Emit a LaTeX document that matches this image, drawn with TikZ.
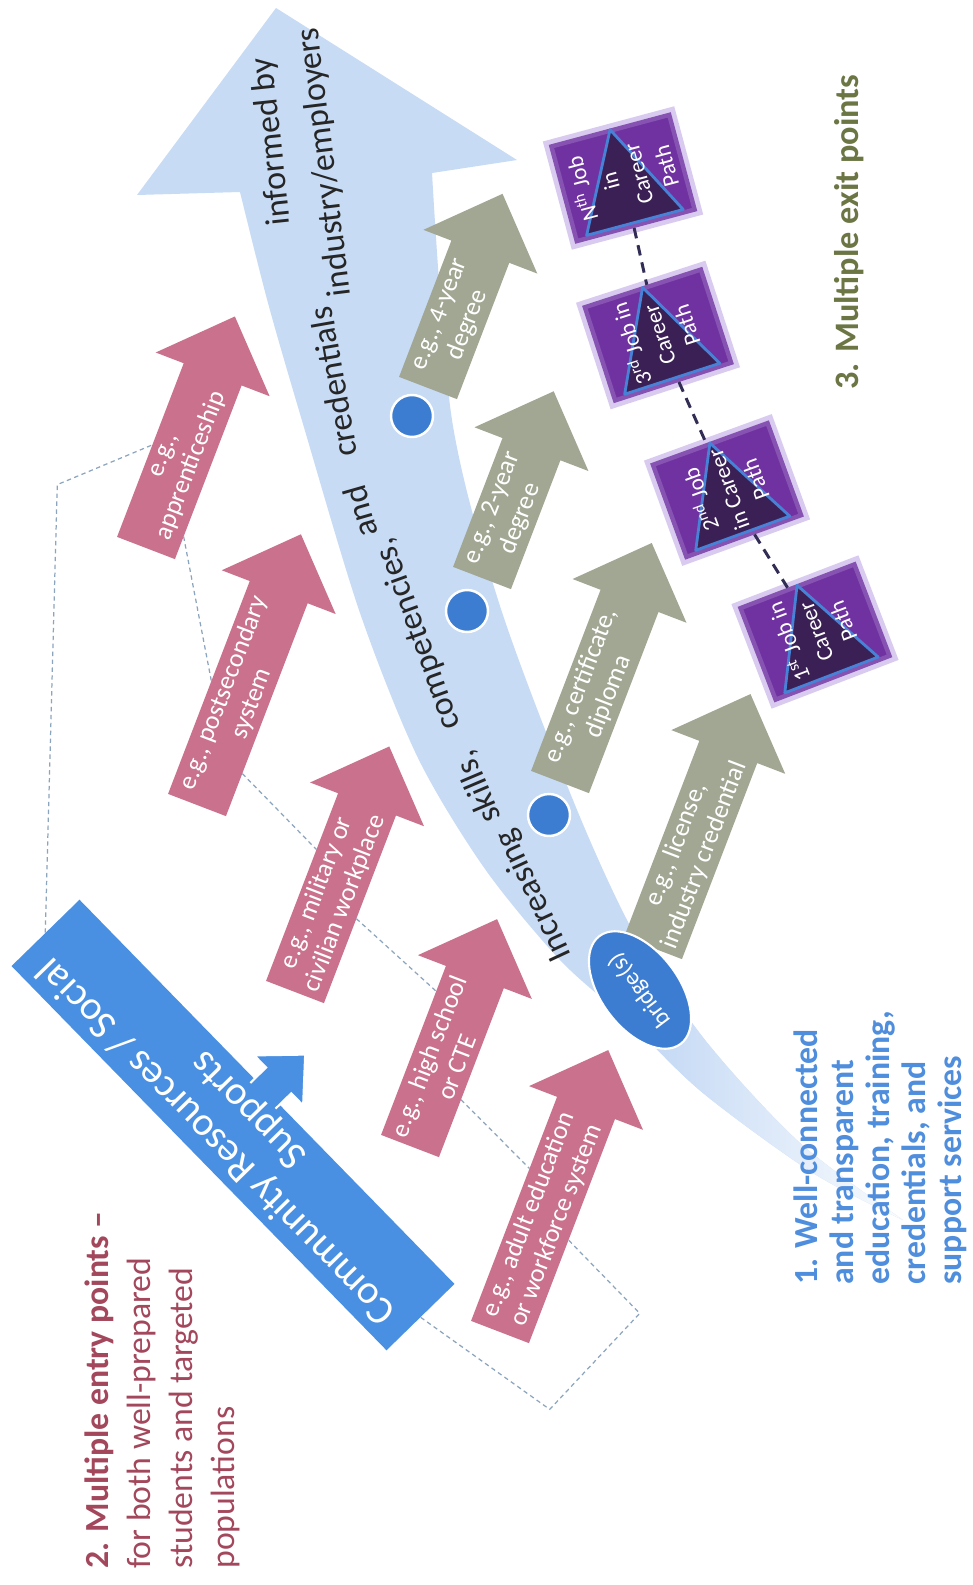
\documentclass[tikz,border=0pt]{standalone}
\usepackage{fontspec}
\setmainfont{Carlito}
\usepackage{xcolor}
\usepackage{tikz}
\usetikzlibrary{shapes.geometric, calc}

\definecolor{bandblue}{RGB}{199,219,245}
\definecolor{dotblue}{RGB}{60,125,210}
\definecolor{commblue}{RGB}{74,144,226}
\definecolor{entrypink}{RGB}{202,114,141}
\definecolor{creditgray}{RGB}{161,167,146}
\definecolor{jobpurple}{RGB}{112,50,160}
\definecolor{jobglow}{RGB}{200,180,232}
\definecolor{jobdark}{RGB}{58,32,84}
\definecolor{triblue}{RGB}{72,130,215}
\definecolor{wellblue}{RGB}{79,141,221}
\definecolor{entryrose}{RGB}{163,72,92}
\definecolor{exitolive}{RGB}{107,118,68}
\definecolor{ladderline}{RGB}{140,165,190}
\definecolor{careerline}{RGB}{50,45,85}

% one step arrow: length, colour, label
\tikzset{
    pics/rung/.style n args={3}{code={
        \fill[#2] (0,-31) -- ({#1-62},-31) -- ({#1-62},-61) -- (#1,0)
            -- ({#1-62},61) -- ({#1-62},31) -- (0,31) -- cycle;
        \coordinate (-bl) at (0,31);
        \coordinate (-br) at (0,-31);
        \coordinate (-nl) at ({#1-62},31);
        \coordinate (-nr) at ({#1-62},-31);
        \node[rungtext] (-txt) at ({(#1-62)/2},0) {#3};
    }}
}

\begin{document}
\begin{tikzpicture}[
    x=0.02cm, y=0.02cm,
    bandfill/.style={fill=bandblue},
    bandword/.style={
        font=\fontsize{19.4}{23}\selectfont,
        text=black!85,
        inner sep=0pt
    },
    rungtext/.style={
        font=\fontsize{14.8}{17}\selectfont,
        text=white,
        align=center,
        rotate=69,
        inner sep=0pt
    },
    stepdot/.style={
        circle,
        fill=dotblue,
        draw=white,
        line width=1.4pt,
        minimum size=0.84cm,
        inner sep=0pt
    },
    bridgenode/.style={
        ellipse,
        fill=dotblue,
        draw=white,
        line width=1.2pt,
        rotate=127,
        minimum width=2.7cm,
        minimum height=1.55cm,
        inner sep=0pt,
        text=white,
        font=\fontsize{13.7}{16}\selectfont
    },
    commbox/.style={
        rectangle,
        fill=commblue,
        rotate=134.3,
        minimum width=10.74cm,
        minimum height=1.9cm,
        inner sep=0pt,
        align=center,
        text=white,
        font=\fontsize{23}{25.5}\selectfont
    },
    jobbox/.style={
        rectangle,
        fill=jobpurple,
        draw=jobpurple!75!jobglow,
        line width=2.5pt,
        preaction={draw=jobglow!70, line width=8pt},
        minimum width=2.44cm,
        minimum height=1.96cm
    },
    jobtri/.style={
        fill=jobdark,
        draw=triblue,
        line width=1.6pt,
        line join=round
    },
    jobtext/.style={
        rotate=90,
        align=center,
        text=white,
        inner sep=0pt,
        font=\fontsize{13}{16.5}\selectfont
    },
    ladderdash/.style={
        draw=ladderline,
        line width=0.7pt,
        dash pattern=on 2.5pt off 2pt
    },
    careerdash/.style={
        draw=careerline,
        line width=1.7pt,
        dash pattern=on 6pt off 4pt
    },
    entrylabel/.style={
        rotate=90,
        anchor=north west,
        align=left,
        inner sep=0pt,
        text=entryrose,
        font=\fontsize{19.2}{23.9}\selectfont
    },
    welllabel/.style={
        rotate=90,
        anchor=north west,
        align=left,
        inner sep=0pt,
        text=wellblue,
        font=\bfseries\fontsize{19.2}{20.5}\selectfont
    },
    exitlabel/.style={
        rotate=90,
        anchor=base west,
        inner sep=0pt,
        text=exitolive,
        font=\bfseries\fontsize{19.5}{23}\selectfont
    }
]
    \path[use as bounding box, fill=white] (0,0) rectangle (973,-1585);

    % Big curved arrow
    \fill[bandfill, save path=\bandoutline] (276,-8) -- (517,-160) -- (432,-173)
        -- plot[smooth] coordinates {(432,-173) (452,-420) (500,-606) (575,-805) (635,-935) (705,-1040) (800,-1143) (903,-1220)}
        -- plot[smooth] coordinates {(903,-1220) (813,-1173) (703,-1093) (627,-1020) (560,-960) (485,-869) (418,-758) (360,-613) (303,-424) (268,-303) (240,-192)}
        -- (137,-195) -- cycle;
    \begin{scope}
        \clip[use path=\bandoutline];
        \shade[left color=bandblue, right color=white] (665,-990) rectangle (930,-1240);
    \end{scope}

    \node[bandword, rotate=115] (inc) at (534,-895) {Increasing};
    \node[bandword, rotate=113] (skl) at (478,-787) {skills,};
    \node[bandword, rotate=110] (comp) at (418,-634) {competencies,};
    \node[bandword, rotate=106] (and) at (360,-512) {and};
    \node[bandword, rotate=100] (cred) at (333,-382) {credentials};
    \node[bandword, rotate=96] (inf) at (272,-142) {informed by};
    \node[bandword, rotate=97] (ind) at (325,-162) {industry/employers};

    % Community supports
    \node[commbox] (community) at (233,-1125) {Community Resources / Social\\Supports};
    \begin{scope}[shift={(community.south)}, rotate=44.3]
        \filldraw[fill=commblue, draw=white, line width=1.2pt] (-6,-18) -- (16,-18) -- (16,-35) -- (53,0) -- (16,35) -- (16,18) -- (-6,18);
    \end{scope}

    % Entry points
    \pic[rotate=69] (pa1) at (146,-548) {rung={248}{entrypink}{e.g.,\\apprenticeship}};
    \pic[rotate=69] (pa2) at (197,-805) {rung={290}{entrypink}{e.g., postsecondary\\system}};
    \pic[rotate=69] (pa3) at (295,-992) {rung={263}{entrypink}{e.g., military or\\civilian workplace}};
    \pic[rotate=69] (pa4) at (410,-1146) {rung={243}{entrypink}{e.g., high school\\or CTE}};
    \pic[rotate=69] (pa5) at (500,-1332) {rung={302}{entrypink}{e.g., adult education\\or workforce system}};

    \draw[ladderdash] (community.east) -- ++(12,448) -- ($(pa1-bl)!0.53!(pa1-nl)$);
    \draw[ladderdash] ($(pa1-br)!0.13!(pa1-nr)$) -- ($(pa2-bl)!0.53!(pa2-nl)$);
    \draw[ladderdash] ($(pa2-br)!0.2!(pa2-nr)$) -- ($(pa3-bl)!0.7!(pa3-nl)$);
    \draw[ladderdash] ($(pa3-br)!0.45!(pa3-nr)$) -- ($(pa4-bl)!0.85!(pa4-nl)$);
    \draw[ladderdash] ($(pa4-br)!0.34!(pa4-nr)$) -- ($(pa5-bl)!0.68!(pa5-nl)$);
    \draw[ladderdash] (community.west) -- ++(129,-92) -- ++(90,96) -- ($(pa5-br)!0.46!(pa5-nr)$);

    % Credentials
    \pic[rotate=69] (ga1) at (428,-388) {rung={208}{creditgray}{e.g., 4-year\\degree}};
    \pic[rotate=69] (ga2) at (482,-578) {rung={200}{creditgray}{e.g., 2-year\\degree}};
    \pic[rotate=69] (ga3) at (560,-782) {rung={256}{creditgray}{e.g., certificate,\\diploma}};
    \pic[rotate=69] (ga4) at (653,-948) {rung={272}{creditgray}{e.g., license,\\industry credential}};

    \node[stepdot] (dot1) at (412,-416) {};
    \node[stepdot] (dot2) at (467,-611) {};
    \node[stepdot] (dot3) at (549,-815) {};
    \node[bridgenode] (bridge) at (640,-990) {bridge(s)};

    % Exit points
    \begin{scope}[shift={(623,-178)}, rotate=15]
        \node[jobbox, transform shape] (jobN) at (0,0) {};
        \filldraw[jobtri] (0,50) -- (-50,-46) -- (50,-46) -- cycle;
        \node[jobtext, transform shape] (jobNtxt) at (0,0) {N\textsuperscript{th} Job\\in\\Career\\Path};
    \end{scope}
    \begin{scope}[shift={(658,-335)}, rotate=18]
        \node[jobbox, transform shape] (job3) at (0,0) {};
        \filldraw[jobtri] (0,50) -- (-50,-46) -- (50,-46) -- cycle;
        \node[jobtext, transform shape] (job3txt) at (0,0) {3\textsuperscript{rd} Job in\\Career\\Path};
    \end{scope}
    \begin{scope}[shift={(727,-490)}, rotate=20]
        \node[jobbox, transform shape] (job2) at (0,0) {};
        \filldraw[jobtri] (0,50) -- (-50,-46) -- (50,-46) -- cycle;
        \node[jobtext, transform shape] (job2txt) at (0,0) {2\textsuperscript{nd} Job\\in Career\\Path};
    \end{scope}
    \begin{scope}[shift={(815,-632)}, rotate=21]
        \node[jobbox, transform shape] (job1) at (0,0) {};
        \filldraw[jobtri] (0,50) -- (-50,-46) -- (50,-46) -- cycle;
        \node[jobtext, transform shape] (job1txt) at (0,0) {1\textsuperscript{st} Job in\\Career\\Path};
    \end{scope}
    \draw[careerdash] (jobN) -- (job3) -- (job2) -- (job1);

    % Labels
    \node[exitlabel] (exits) at (858,-390) {3. Multiple exit points};
    \node[entrylabel] (entries) at (84,-1569) {\textbf{2. Multiple entry points --}\\for both well-prepared\\students and targeted\\populations};
    \node[welllabel] (wellconn) at (793,-1285) {1. Well-connected\\and transparent\\education, training,\\credentials, and\\support services};

\end{tikzpicture}
\end{document}
